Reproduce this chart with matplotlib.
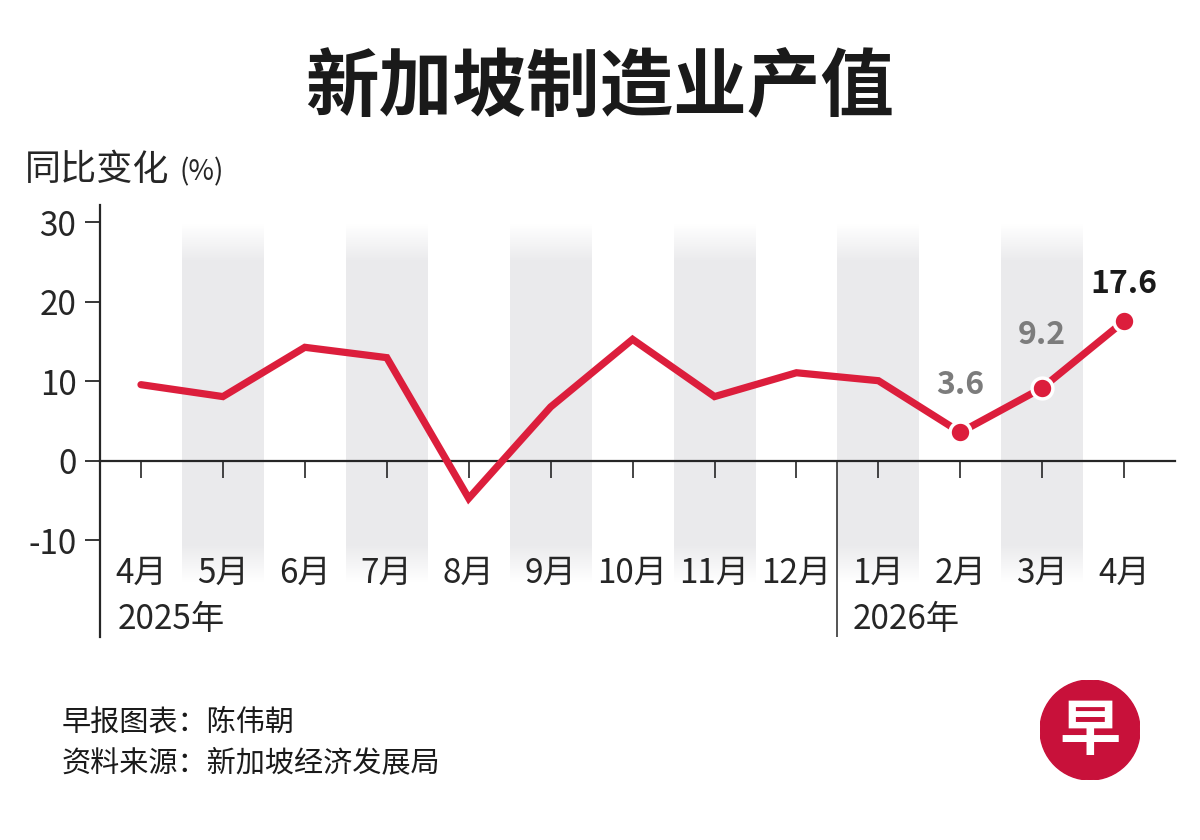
import numpy as np
import matplotlib
matplotlib.use('Agg')
import matplotlib.pyplot as plt
from matplotlib.patches import Circle

plt.rcParams['font.family'] = ['Noto Sans CJK SC', 'DejaVu Sans']

# data (yoy change, %)
months = ['4月', '5月', '6月', '7月', '8月', '9月', '10月', '11月', '12月',
          '1月', '2月', '3月', '4月']
growth = [9.6, 8.1, 14.3, 13.0, -4.7, 6.8, 15.3, 8.1, 11.1, 10.1, 3.6, 9.2, 17.6]
yticks = [-10, 0, 10, 20, 30]
years = ['2025年', '2026年']
shaded = [1, 3, 5, 7, 9, 11]
labelled = [10, 11, 12]

RED = '#dc1e3c'
DARK = '#262626'
GREY_TXT = '#7c7c7c'

fig = plt.figure(figsize=(12, 8.4), dpi=100)
ax = fig.add_axes([100/1200, 1-637/840, 1075/1200, 432/840])
x = np.arange(len(growth))

# alternating grey columns, faded at top and bottom
fade = np.ones(200)
fade[:22] = np.linspace(0, 1, 22)
fade[-22:] = np.linspace(1, 0, 22)
band = np.zeros((200, 1, 4))
band[..., 0] = 0.918
band[..., 1] = 0.918
band[..., 2] = 0.928
band[:, 0, 3] = fade
for i in shaded:
    ax.imshow(band, extent=(i-0.5, i+0.5, -15.3, 29.9), aspect='auto',
              origin='upper', zorder=0, interpolation='bilinear')

ax.set_xlim(-0.5, 12.62)
ax.set_ylim(-22.14, 32.2)

# axes look
for s in ['top', 'right']:
    ax.spines[s].set_visible(False)
ax.spines['left'].set_color(DARK)
ax.spines['left'].set_linewidth(1.6)
ax.spines['bottom'].set_position(('data', 0))
ax.spines['bottom'].set_color(DARK)
ax.spines['bottom'].set_linewidth(1.6)

ax.set_yticks(yticks)
ax.set_yticklabels([str(v) for v in yticks])
ax.tick_params(axis='y', direction='out', length=11, width=1.3, color=DARK,
               labelsize=24, labelcolor=DARK, pad=6)
ax.set_xticks(x)
ax.set_xticklabels([])
ax.tick_params(axis='x', direction='out', length=12, width=1.2, color=DARK)

# month labels and year labels
for i, m in enumerate(months):
    ax.text(i, -14.1, m, ha='center', va='center', fontsize=24, color=DARK)
ax.text(-0.28, -20.0, years[0], ha='left', va='center', fontsize=24, color=DARK)
ax.text(8.68, -20.0, years[1], ha='left', va='center', fontsize=24, color=DARK)

# year divider
ax.vlines(8.5, -22.14, 0, color=DARK, lw=1.1)

# line
ax.plot(x, growth, color=RED, lw=5.2, solid_joinstyle='miter',
        solid_capstyle='round', zorder=3)
ax.plot(x[labelled], [growth[i] for i in labelled], 'o', ms=15, mfc=RED,
        mec='white', mew=2.5, zorder=4)

offsets = [34, 38, 27]
colors = [GREY_TXT, GREY_TXT, '#1a1a1a']
for i, off, c in zip(labelled, offsets, colors):
    ax.annotate(f'{growth[i]}', (i, growth[i]), xytext=(0, off),
                textcoords='offset points', ha='center', va='center',
                fontsize=23, fontweight='bold', color=c)

# titles and notes
fig.text(0.5, 1-89/840, '新加坡制造业产值', ha='center', va='center',
         fontsize=53, fontweight='bold', color='#1a1a1a')
fig.text(25/1200, 1-170/840, '同比变化', ha='left', va='center',
         fontsize=26, color=DARK)
fig.text(179/1200, 1-172/840, '(%)', ha='left', va='center',
         fontsize=20, color=DARK)
fig.text(62/1200, 1-723/840, '早报图表：陈伟朝', ha='left', va='center',
         fontsize=21, color='#1a1a1a')
fig.text(62/1200, 1-763/840, '资料来源：新加坡经济发展局', ha='left', va='center',
         fontsize=21, color='#1a1a1a')

# logo
lax = fig.add_axes([1040/1200, 1-780/840, 100/1200, 100/840])
lax.set_xlim(0, 1)
lax.set_ylim(0, 1)
lax.axis('off')
lax.add_patch(Circle((0.5, 0.5), 0.5, color='#c8113a'))
lax.text(0.5, 0.48, '早', ha='center', va='center', fontsize=44,
         fontweight='bold', color='white')

fig.savefig('out.png', dpi=100)
